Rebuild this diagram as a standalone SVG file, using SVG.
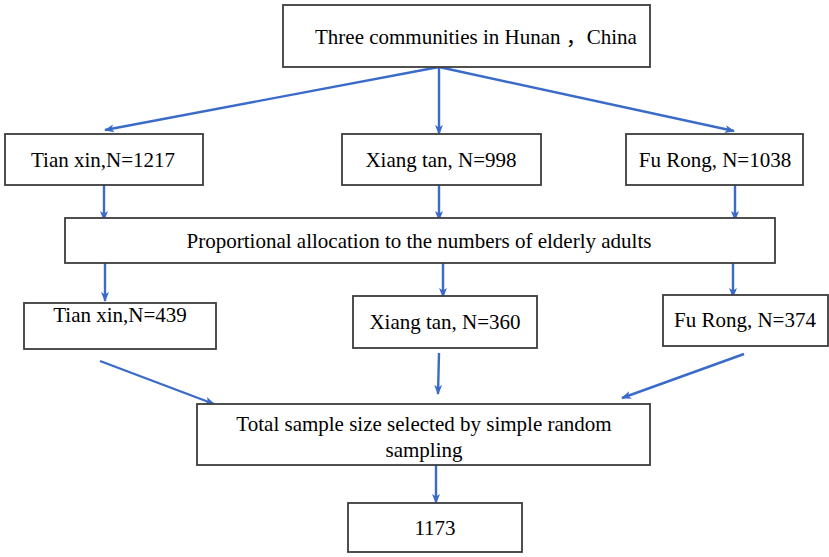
<svg xmlns="http://www.w3.org/2000/svg" width="829" height="557" viewBox="0 0 829 557">
<defs>
<marker id="ah" markerWidth="10" markerHeight="10" refX="9" refY="5" orient="auto" markerUnits="userSpaceOnUse">
<path d="M0,1 L10,5 L0,9 L2.5,5 Z" fill="#3a6bc9"/>
</marker>
<style>
.box{fill:#fff;stroke:#3c3c3c;stroke-width:1.8}
.t{font-family:"Liberation Serif","Noto Sans CJK SC",serif;font-size:21px;fill:#000}
.c{text-anchor:middle}
.e{fill:none;stroke:#3a6bc9;stroke-width:2.4;marker-end:url(#ah)}
</style>
</defs>
<rect width="829" height="557" fill="#fff"/>
<g id="connectors">
<path class="e" d="M439,67 L105,130"/>
<path class="e" d="M439,67 L439,134"/>
<path class="e" d="M439,67 L734,131"/>
<path class="e" d="M104,185 L104,220"/>
<path class="e" d="M439,185 L439,220"/>
<path class="e" d="M735,185 L735,220"/>
<path class="e" d="M105,263 L105,301"/>
<path class="e" d="M443,263 L443,297"/>
<path class="e" d="M733,263 L733,297"/>
<path class="e" d="M100,361 L214,404"/>
<path class="e" d="M439,353 L438,394"/>
<path class="e" d="M744,354 L622,398"/>
<path class="e" d="M436,465 L436,503"/>
</g>
<g id="n-top">
<rect class="box" x="283" y="5" width="367" height="62"/>
<text class="t" x="315" y="44">Three communities in Hunan ，China</text>
</g>
<g id="n-tianxin1">
<rect class="box" x="5" y="134" width="198" height="51"/>
<text class="t c" x="103" y="167">Tian xin,N=1217</text>
</g>
<g id="n-xiangtan1">
<rect class="box" x="342" y="134" width="199" height="51"/>
<text class="t c" x="441" y="167">Xiang tan, N=998</text>
</g>
<g id="n-furong1">
<rect class="box" x="626" y="134" width="177" height="51"/>
<text class="t c" x="715" y="167">Fu Rong, N=1038</text>
</g>
<g id="n-prop">
<rect class="box" x="65" y="218" width="710" height="45"/>
<text class="t c" x="419" y="248">Proportional allocation to the numbers of elderly adults</text>
</g>
<g id="n-tianxin2">
<rect class="box" x="24" y="303" width="192" height="46"/>
<text class="t c" x="120" y="322">Tian xin,N=439</text>
</g>
<g id="n-xiangtan2">
<rect class="box" x="353" y="296" width="184" height="52"/>
<text class="t c" x="445" y="329">Xiang tan, N=360</text>
</g>
<g id="n-furong2">
<rect class="box" x="663" y="295" width="165" height="51"/>
<text class="t c" x="745" y="327">Fu Rong, N=374</text>
</g>
<g id="n-total">
<rect class="box" x="197" y="404" width="453" height="61"/>
<text class="t c" x="424" y="431">Total sample size selected by simple random</text>
<text class="t c" x="424" y="457">sampling</text>
</g>
<g id="n-1173">
<rect class="box" x="348" y="503" width="174" height="49"/>
<text class="t c" x="435" y="535">1173</text>
</g>
</svg>
